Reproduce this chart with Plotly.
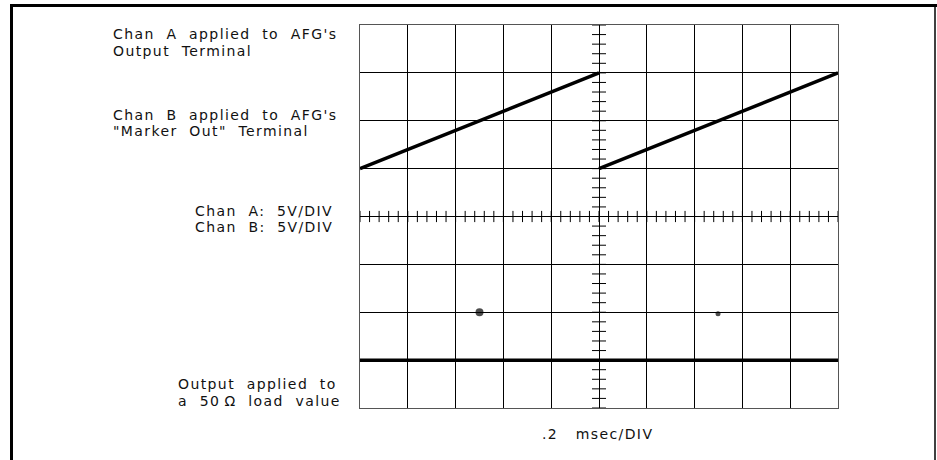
import plotly.graph_objects as go

# ---------------- data (in screen divisions) ----------------
chan_a_seg1_x = [0, 5]
chan_a_seg1_y = [1, 3]
chan_a_seg2_x = [5, 10]
chan_a_seg2_y = [1, 3]
output_x = [0, 10]
output_y = [-3, -3]
chan_b_x = [2.5, 7.49]
chan_b_y = [-2.0, -2.03]
chan_b_size = [8, 5]

minor_x = [i * 0.2 for i in range(51)]
minor_y = [-4 + i * 0.2 for i in range(41)]

label_lines = [
    "Chan A applied to AFG's",
    "Output Terminal",
    "Chan B applied to AFG's",
    "\"Marker Out\" Terminal",
    "Chan A: 5V/DIV",
    "Chan B: 5V/DIV",
    "Output applied to",
    "a 50\u2009\u03a9 load value",
]
xlabel = ".2   msec/DIV"

# ---------------- layout geometry (page pixels) ----------------
W, H = 937, 460
L, R, T, B = 360, 838, 25, 408   # plot area in pixels


def px(x):
    return (x - L) / (R - L)


def py(y):
    return (B - y) / (B - T)


def spaced(s, n=2, ls=1.4):
    s = s.replace(" ", "\u00a0" * n)
    return f'<span style="letter-spacing:{ls}px">{s}</span>'


fig = go.Figure()

# center axis minor ticks
fig.add_trace(go.Scatter(x=minor_x, y=[0] * len(minor_x), mode="markers",
                         marker=dict(symbol="line-ns", size=8,
                                     line=dict(color="black", width=1)),
                         hoverinfo="skip", showlegend=False))
fig.add_trace(go.Scatter(x=[5] * len(minor_y), y=minor_y, mode="markers",
                         marker=dict(symbol="line-ew", size=10,
                                     line=dict(color="black", width=1)),
                         hoverinfo="skip", showlegend=False))

line_style = dict(color="black", width=3.5)
fig.add_trace(go.Scatter(x=chan_a_seg1_x, y=chan_a_seg1_y, mode="lines",
                         line=line_style, showlegend=False))
fig.add_trace(go.Scatter(x=chan_a_seg2_x, y=chan_a_seg2_y, mode="lines",
                         line=line_style, showlegend=False))
fig.add_trace(go.Scatter(x=output_x, y=output_y, mode="lines",
                         line=dict(color="black", width=3.5), showlegend=False))
fig.add_trace(go.Scatter(x=chan_b_x, y=chan_b_y, mode="markers",
                         marker=dict(color="black", size=chan_b_size,
                                     line=dict(width=0)),
                         showlegend=False))

font = dict(family="DejaVu Sans", size=14, color="#111")
label_pos = [
    (111, 34.3), (111, 51), (111, 115.3), (111, 131),
    (193, 210.7), (193, 226.7), (176, 383.5), (176, 401),
]
annotations = []
for text, (x, y) in zip(label_lines, label_pos):
    annotations.append(dict(x=px(x), y=py(y), xref="paper", yref="paper",
                            xanchor="left", yanchor="middle", showarrow=False,
                            text=spaced(text), font=font))
annotations.append(dict(x=px(597.5), y=py(434), xref="paper", yref="paper",
                        xanchor="center", yanchor="middle", showarrow=False,
                        text=spaced(xlabel, n=1), font=font))

shapes = [
    # outer frame
    dict(type="line", xref="paper", yref="paper", x0=px(11.5), x1=px(11.5),
         y0=py(4), y1=py(470), line=dict(color="black", width=3)),
    dict(type="line", xref="paper", yref="paper", x0=px(10), x1=px(937),
         y0=py(5.5), y1=py(5.5), line=dict(color="black", width=3)),
    dict(type="line", xref="paper", yref="paper", x0=px(935), x1=px(935),
         y0=py(4), y1=py(470), line=dict(color="black", width=1.5)),
]

axis_common = dict(showgrid=True, gridcolor="black", gridwidth=1,
                   dtick=1, showticklabels=False, ticks="",
                   zeroline=False, showline=True, linecolor="#555",
                   linewidth=1, mirror=True, fixedrange=True)
fig.update_layout(
    width=W, height=H,
    margin=dict(l=L, r=W - R, t=T, b=H - B, autoexpand=False),
    paper_bgcolor="white", plot_bgcolor="white",
    xaxis=dict(range=[0, 10], **axis_common),
    yaxis=dict(range=[-4, 4], **axis_common),
    annotations=annotations, shapes=shapes,
    showlegend=False, hovermode=False,
)

fig.write_html("out.html",
               config={"displayModeBar": False, "staticPlot": True},
               post_script="document.body.style.margin='0';"
                           "document.body.style.overflow='hidden';")
